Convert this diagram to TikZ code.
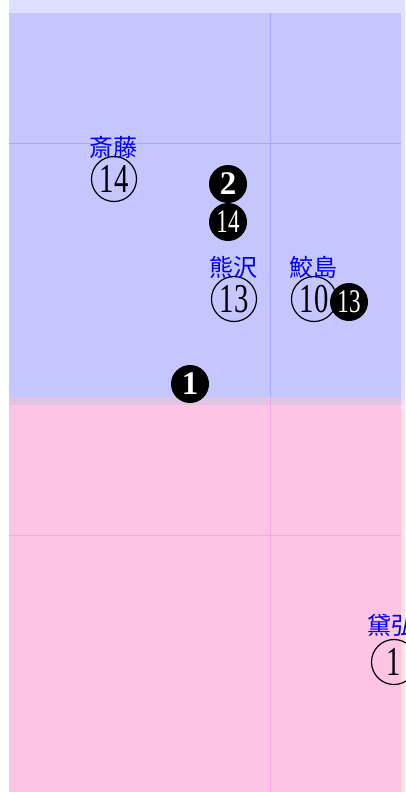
\documentclass[tikz,border=0pt]{standalone}
\usepackage{fontspec}
\usepackage{graphicx}
\newfontfamily\jpfont{Noto Sans CJK JP}
\newfontfamily\numfont{Liberation Serif}
\usetikzlibrary{positioning}
\definecolor{bandblue}{HTML}{DFE0FF}
\definecolor{fieldblue}{HTML}{C6C6FF}
\definecolor{lineblue}{HTML}{A6A6FF}
\definecolor{bandpink}{HTML}{FFE0E6}
\definecolor{fieldpink}{HTML}{FEC4E4}
\definecolor{linepink}{HTML}{F4A8E6}
\definecolor{bandmix}{HTML}{E1C4E4}
\definecolor{cornermix}{HTML}{EEDDF0}
\newcommand{\narrownum}[1]{\scalebox{0.7}[1]{#1}}

\begin{document}
\begin{tikzpicture}[
  x=1pt, y=-1pt,
  player/.style={text=blue, inner sep=0pt, font=\jpfont\fontsize{24}{24}\selectfont},
  white stone/.style={circle, draw, line width=1.2pt, minimum size=45pt, inner sep=0pt,
    font=\numfont\fontsize{41}{41}\selectfont},
  black stone/.style={circle, fill=black, minimum size=38pt, inner sep=0pt, text=white,
    font=\numfont\fontsize{33}{33}\selectfont}
]
\useasboundingbox (0,0) rectangle (405,792);
% upper half
\fill[bandblue] (9,0) rectangle (405,397);
\fill[fieldblue] (9,13) rectangle (401,397);
\draw[lineblue, line width=0.6pt] (270,13) -- (270,397);
\draw[lineblue, line width=0.6pt] (9,143) -- (401,143);
% lower half
\fill[bandpink] (401,397) rectangle (405,792);
\fill[fieldpink] (9,405) rectangle (401,792);
\fill[bandmix] (9,397) rectangle (401,405);
\fill[cornermix] (401,397) rectangle (405,405);
\draw[linepink, line width=0.6pt] (270,397) -- (270,792);
\draw[linepink, line width=0.6pt] (9,535) -- (401,535);

\node[white stone] (saito) at (114,179) {\narrownum{14}};
\node[player] (saitoname) at (113,147) {斎藤};
\node[black stone] (b2) at (228,184) {\textbf{2}};
\node[black stone] (b14) at (228,222) {\narrownum{14}};
\node[white stone] (kumazawa) at (234,299) {\narrownum{13}};
\node[player] (kumazawaname) at (233,267) {熊沢};
\node[white stone] (samejima) at (314,299) {\narrownum{10}};
\node[player] (samejimaname) at (313,267) {鮫島};
\node[black stone] (b13) at (349,302) {\narrownum{13}};
\node[black stone] (b1) at (190,384) {\textbf{1}};
\node[white stone] (mayuzumi) at (394,662) {\narrownum{1}};
\node[player, anchor=west] (mayuzuminame) at (367,625) {黛弘};
\end{tikzpicture}
\end{document}
